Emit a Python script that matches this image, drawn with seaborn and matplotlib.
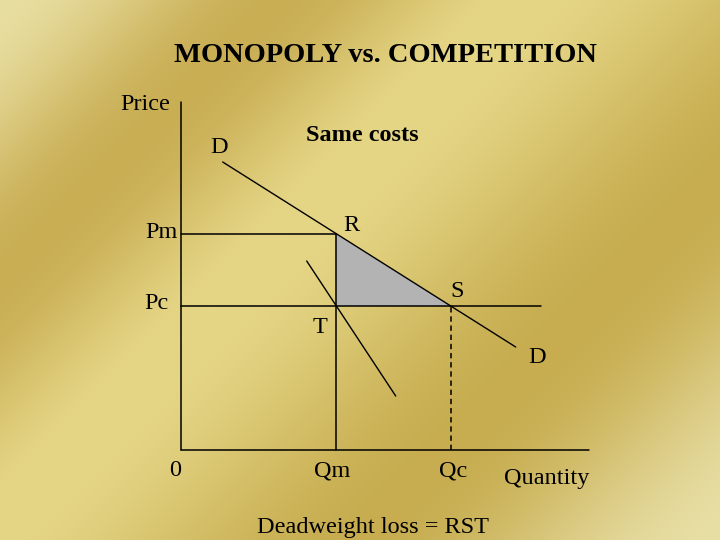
import numpy as np
import pandas as pd
import matplotlib
matplotlib.use("Agg")
import matplotlib.pyplot as plt
import seaborn as sns

# ---- data (quantity / price units) ----
Qm, Qc = 15.5, 27.0
Pm, Pc = 21.6, 14.4
demand_q = [4.2, 33.5]
demand_p = [28.8, 10.3]
mr_q = [12.6, 21.5]
mr_p = [18.9, 5.4]
price_axis_top = 34.8
qty_axis_end = 40.8
pc_line_end = 36.0

sns.set_theme(style="white")
plt.rcParams["font.family"] = ["Liberation Serif", "DejaVu Serif"]
plt.rcParams["text.color"] = "black"

fig = plt.figure(figsize=(7.2, 5.4), dpi=100)
ax = fig.add_axes([0, 0, 1, 1])
xlim = (-18.07, 53.93)
ylim = (-9.0, 45.0)

# gold gradient background (diagonal bands, smooth)
H, W = 540, 720
yy, xx = np.mgrid[0:H, 0:W]
s = xx + yy * 1.0
stops = np.array([0, 280, 520, 900, 1260], dtype=float)
cols = np.array([[232, 222, 160], [201, 174, 84], [229, 214, 134],
                 [199, 173, 80], [232, 223, 165]]) / 255.0
idx = np.clip(np.searchsorted(stops, s, side="right") - 1, 0, len(stops) - 2)
t = (s - stops[idx]) / (stops[idx + 1] - stops[idx])
t = 0.5 - 0.5 * np.cos(np.pi * np.clip(t, 0, 1))
img = cols[idx] * (1 - t[..., None]) + cols[idx + 1] * t[..., None]
ax.imshow(img, extent=[xlim[0], xlim[1], ylim[0], ylim[1]], origin="upper",
          aspect="auto", zorder=0)

lw = 1.1
k = "black"
# axes
ax.plot([0, 0], [0, price_axis_top], color=k, lw=lw, zorder=3)
ax.plot([0, qty_axis_end], [0, 0], color=k, lw=lw, zorder=3)

# deadweight triangle RST
ax.fill([Qm, Qc, Qm], [Pm, Pc, Pc], color="#b3b3b3", zorder=1, lw=0)

# price lines
ax.plot([0, Qm], [Pm, Pm], color=k, lw=lw, zorder=3)
ax.plot([0, pc_line_end], [Pc, Pc], color=k, lw=lw, zorder=3)
# quantity lines
ax.plot([Qm, Qm], [0, Pm], color=k, lw=lw, zorder=3)
ax.plot([Qc, Qc], [0, Pc], color=k, lw=lw, ls=(0, (3.5, 2.5)), zorder=3)

# demand and MR
dem = pd.DataFrame({"q": demand_q, "p": demand_p})
mr = pd.DataFrame({"q": mr_q, "p": mr_p})
sns.lineplot(data=dem, x="q", y="p", ax=ax, color=k, lw=1.0, sort=False, zorder=4)
sns.lineplot(data=mr, x="q", y="p", ax=ax, color=k, lw=1.0, sort=False, zorder=4)

fs = 17.5
tk = dict(va="baseline", fontsize=fs, color="black")
ax.text(20.5, 38.85, "MONOPOLY vs. COMPETITION", ha="center", va="baseline",
        fontsize=20.5, fontweight="bold", color="black")
ax.text(-1.07, 33.95, "Price", ha="right", **tk)
ax.text(3.86, 29.7, "D", ha="center", **tk)
ax.text(18.21, 30.93, "Same costs", ha="center", fontweight="bold", **tk)
ax.text(17.03, 21.9, "R", ha="center", **tk)
ax.text(-0.27, 21.2, "Pm", ha="right", **tk)
ax.text(27.68, 15.3, "S", ha="center", **tk)
ax.text(-1.17, 14.1, "Pc", ha="right", **tk)
ax.text(13.93, 11.7, "T", ha="center", **tk)
ax.text(35.68, 8.7, "D", ha="center", **tk)
ax.text(-0.57, -2.6, "0", ha="center", **tk)
ax.text(15.13, -2.6, "Qm", ha="center", **tk)
ax.text(27.23, -2.6, "Qc", ha="center", **tk)
ax.text(36.63, -3.4, "Quantity", ha="center", **tk)
ax.text(19.19, -8.3, "Deadweight loss = RST", ha="center", **tk)

ax.set_xlim(*xlim)
ax.set_ylim(*ylim)
ax.axis("off")
fig.savefig("out.png", dpi=100)
